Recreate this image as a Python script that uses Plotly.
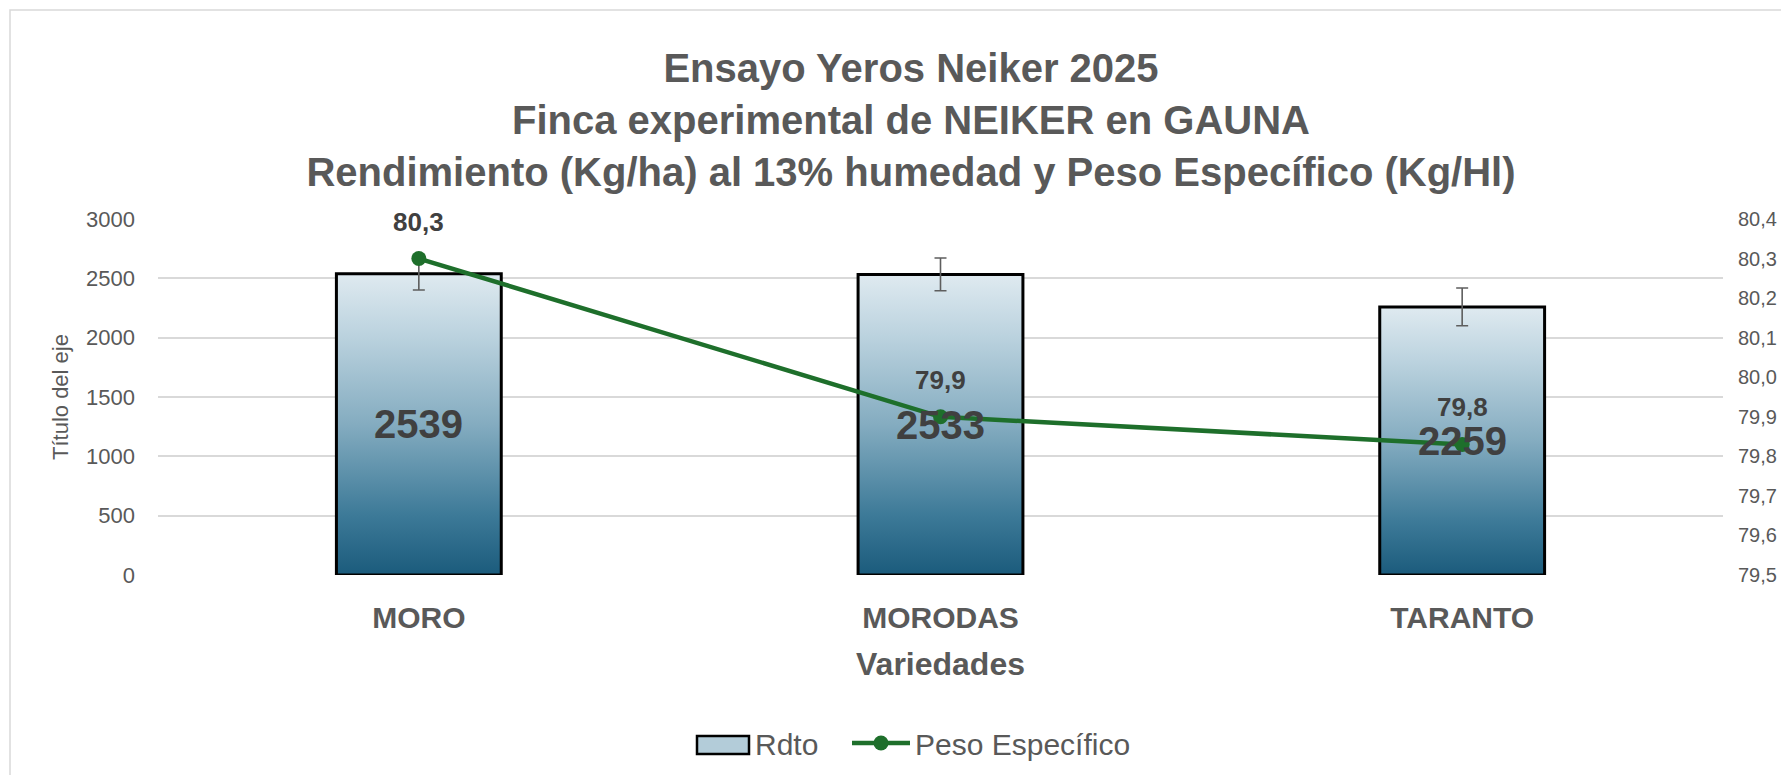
import plotly.graph_objects as go

# ---- data ----
categories = ["MORO", "MORODAS", "TARANTO"]
rdto = [2539, 2533, 2259]            # Rendimiento Kg/ha
rdto_err = [137, 138, 159]           # error bars (+/-)
peso = [80.3, 79.9, 79.83]           # Peso específico Kg/Hl
left_ticks = [0, 500, 1000, 1500, 2000, 2500, 3000]
right_ticks = [79.5, 79.6, 79.7, 79.8, 79.9, 80.0, 80.1, 80.2, 80.3, 80.4]

title_lines = ["Ensayo Yeros Neiker 2025",
               "Finca experimental de NEIKER en GAUNA",
               "Rendimiento (Kg/ha) al 13% humedad y Peso Específico (Kg/Hl)"]

# ---- layout geometry (page pixels; the page body has an 8px margin) ----
OFF = 8
PAGE_W, PAGE_H = 1789, 783
W, H = PAGE_W - 2 * OFF, PAGE_H - 2 * OFF
P_LEFT, P_RIGHT, P_TOP, P_BOT = 158, 1723, 219, 575   # plot area on the page
ML = P_LEFT - OFF
MR = W - (P_RIGHT - OFF)
MT = P_TOP - OFF
MB = H - (P_BOT - OFF)

FONT = "Liberation Sans, Arial, sans-serif"
GRAY = "#595959"
DARK = "#404040"
GREEN = "#1e6f2b"
BAR_W = 0.316
grad_scale = [[0.0, "#1b5b7c"], [0.2, "#3d7a98"], [0.5, "#84acc0"],
              [0.8, "#bcd3df"], [1.0, "#dfeaf0"]]

xi = list(range(len(categories)))
plot_h = P_BOT - P_TOP
plot_w = P_RIGHT - P_LEFT


def py(page_y):   # page pixel y -> paper y
    return (P_BOT - page_y) / plot_h


def px(page_x):   # page pixel x -> paper x
    return (page_x - P_LEFT) / plot_w


fig = go.Figure()

# base bars (carry the data + legend entry; the visible fill is the gradient overlay)
fig.add_trace(go.Bar(
    x=xi, y=rdto, width=BAR_W, name="Rdto", legend="legend",
    marker=dict(color="rgba(0,0,0,0)", line=dict(color="rgba(0,0,0,0)", width=0)),
    hoverinfo="y", yaxis="y",
))

# gradient overlay for each bar, built from the data
for i, v in zip(xi, rdto):
    x0, x1 = i - BAR_W / 2, i + BAR_W / 2
    fig.add_trace(go.Scatter(
        x=[x0, x1, x1, x0, x0], y=[0, 0, v, v, 0],
        mode="lines", fill="toself",
        fillgradient=dict(type="vertical", colorscale=grad_scale, start=0, stop=v),
        line=dict(color="black", width=3),
        showlegend=False, hoverinfo="skip", yaxis="y",
    ))

# error bars
fig.add_trace(go.Scatter(
    x=xi, y=rdto, mode="markers",
    marker=dict(size=1, color="rgba(0,0,0,0)"),
    error_y=dict(type="data", array=rdto_err, visible=True,
                 color="#5e5e5e", thickness=1.6, width=6),
    showlegend=False, hoverinfo="skip", yaxis="y",
))

# line on secondary axis
fig.add_trace(go.Scatter(
    x=xi, y=peso, name="Peso Específico", yaxis="y2", legend="legend2",
    mode="lines+markers",
    line=dict(color=GREEN, width=4.5),
    marker=dict(color=GREEN, size=15),
))

annotations = []
for i, v in zip(xi, rdto):
    annotations.append(dict(x=i, y=v / 2, xref="x", yref="y", text=f"<b>{v}</b>",
                            showarrow=False, font=dict(family=FONT, size=40, color=DARK)))
for i, v in zip(xi, peso):
    annotations.append(dict(x=i, y=v, xref="x", yref="y2",
                            text=f"<b>{v:.1f}</b>".replace(".", ","),
                            showarrow=False, yshift=37,
                            font=dict(family=FONT, size=26, color=DARK)))
annotations.append(dict(x=0.5, y=py(664), xref="paper", yref="paper", text="<b>Variedades</b>",
                        showarrow=False, yanchor="middle",
                        font=dict(family=FONT, size=32, color=GRAY)))
annotations.append(dict(x=px(60), y=0.5, xref="paper", yref="paper", text="Título del eje",
                        showarrow=False, textangle=-90, xanchor="center", yanchor="middle",
                        font=dict(family=FONT, size=22, color=GRAY)))

# legend swatch for "Rdto" (wide framed box as in the reference)
swatch = dict(type="rect", xref="paper", yref="paper",
              x0=px(697), x1=px(749), y0=py(736), y1=py(754),
              fillcolor="#b3ccd9", line=dict(color="black", width=2.5), layer="above")

legend_common = dict(orientation="h", xanchor="left", y=py(743), yanchor="middle",
                     font=dict(family=FONT, size=30, color=GRAY), itemwidth=58,
                     bgcolor="rgba(0,0,0,0)")

fig.update_layout(
    width=W, height=H,
    margin=dict(l=ML, r=MR, t=MT, b=MB, autoexpand=False),
    paper_bgcolor="white", plot_bgcolor="white",
    separators=",.",
    font=dict(family=FONT, color=GRAY),
    title=dict(text="<br>".join(f"<b>{t}</b>" for t in title_lines),
               x=(911 - OFF) / W, xanchor="center", xref="container",
               y=1 - (82 - OFF) / H, yanchor="middle", yref="container",
               font=dict(family=FONT, size=40, color=GRAY)),
    xaxis=dict(range=[-0.5, len(categories) - 0.5], tickmode="array",
               tickvals=xi, ticktext=categories, showgrid=False, zeroline=False,
               showline=False, ticks="", ticklabelstandoff=22,
               tickfont=dict(family=FONT, size=30, color=GRAY, weight="bold")),
    yaxis=dict(range=[0, 3000], tickvals=left_ticks, tickformat="d",
               showgrid=True, gridcolor="#d9d9d9", gridwidth=1.5,
               zeroline=False, showline=False, ticks="", ticklabelstandoff=22,
               tickfont=dict(family=FONT, size=22, color=GRAY)),
    yaxis2=dict(range=[79.5, 80.4], tickvals=right_ticks, tickformat=".1f",
                overlaying="y", side="right", showgrid=False, zeroline=False,
                showline=False, ticks="", ticklabelstandoff=14,
                tickfont=dict(family=FONT, size=20, color=GRAY)),
    barmode="overlay",
    legend=dict(x=px(687), **legend_common),
    legend2=dict(x=px(847), **legend_common),
    annotations=annotations,
    shapes=[dict(type="rect", xref="paper", yref="paper",
                 x0=px(10), x1=px(1830), y0=py(10), y1=py(830),
                 line=dict(color="#d9d9d9", width=1.5), layer="below"),
            swatch],
)

fig.write_html("out.html")
